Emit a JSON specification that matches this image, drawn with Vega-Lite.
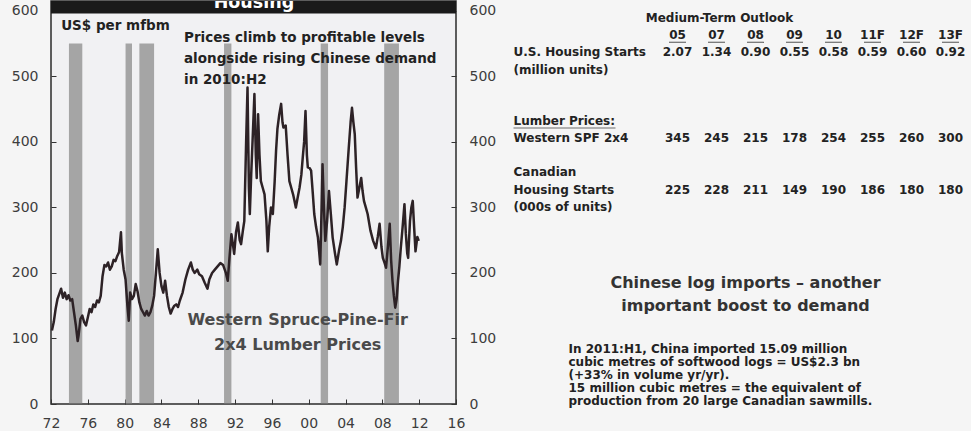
{
  "$schema": "https://vega.github.io/schema/vega-lite/v6.json",
  "background": "#f5f5f5",
  "padding": {"left": 10, "top": 0, "right": 1, "bottom": 0},
  "bounds": "flush",
  "spacing": 202,
  "config": {
    "view": {"stroke": null},
    "text": {"font": "DejaVu Sans"},
    "axis": {"labelFont": "DejaVu Sans"}
  },
  "datasets": {
    "recessions": [
      {"start": 1973.95, "end": 1975.4},
      {"start": 1980.1, "end": 1980.8},
      {"start": 1981.6, "end": 1983.2},
      {"start": 1990.8, "end": 1991.6},
      {"start": 2001.3, "end": 2002.1},
      {"start": 2008.2, "end": 2009.8}
    ],
    "lumber": [
      {"year": 1972.1, "price": 112}, {"year": 1972.3, "price": 125}, {"year": 1972.5, "price": 145},
      {"year": 1972.7, "price": 160}, {"year": 1972.9, "price": 168}, {"year": 1973.1, "price": 176},
      {"year": 1973.3, "price": 162}, {"year": 1973.5, "price": 170}, {"year": 1973.7, "price": 160},
      {"year": 1973.9, "price": 166}, {"year": 1974.1, "price": 158}, {"year": 1974.3, "price": 160},
      {"year": 1974.5, "price": 140}, {"year": 1974.7, "price": 120}, {"year": 1974.9, "price": 96},
      {"year": 1975.0, "price": 105}, {"year": 1975.2, "price": 130}, {"year": 1975.4, "price": 135},
      {"year": 1975.6, "price": 125}, {"year": 1975.8, "price": 120}, {"year": 1976.0, "price": 132},
      {"year": 1976.2, "price": 145}, {"year": 1976.4, "price": 140}, {"year": 1976.6, "price": 152},
      {"year": 1976.8, "price": 148}, {"year": 1977.0, "price": 158}, {"year": 1977.2, "price": 155},
      {"year": 1977.4, "price": 165}, {"year": 1977.6, "price": 195}, {"year": 1977.8, "price": 212},
      {"year": 1978.0, "price": 210}, {"year": 1978.2, "price": 216}, {"year": 1978.4, "price": 205},
      {"year": 1978.6, "price": 210}, {"year": 1978.8, "price": 220}, {"year": 1979.0, "price": 218},
      {"year": 1979.2, "price": 226}, {"year": 1979.4, "price": 232}, {"year": 1979.6, "price": 262},
      {"year": 1979.7, "price": 230}, {"year": 1979.9, "price": 205}, {"year": 1980.1, "price": 190},
      {"year": 1980.3, "price": 150}, {"year": 1980.45, "price": 127}, {"year": 1980.6, "price": 170},
      {"year": 1980.8, "price": 160}, {"year": 1981.0, "price": 165}, {"year": 1981.2, "price": 183},
      {"year": 1981.4, "price": 172}, {"year": 1981.6, "price": 155}, {"year": 1981.8, "price": 145},
      {"year": 1982.0, "price": 140}, {"year": 1982.2, "price": 135}, {"year": 1982.4, "price": 142},
      {"year": 1982.6, "price": 135}, {"year": 1982.8, "price": 140}, {"year": 1983.0, "price": 150},
      {"year": 1983.2, "price": 165}, {"year": 1983.4, "price": 200}, {"year": 1983.6, "price": 236},
      {"year": 1983.8, "price": 200}, {"year": 1984.0, "price": 180}, {"year": 1984.2, "price": 170},
      {"year": 1984.4, "price": 188}, {"year": 1984.6, "price": 165}, {"year": 1984.8, "price": 148},
      {"year": 1985.0, "price": 138}, {"year": 1985.2, "price": 145}, {"year": 1985.4, "price": 150},
      {"year": 1985.6, "price": 152}, {"year": 1985.8, "price": 148}, {"year": 1986.0, "price": 158},
      {"year": 1986.3, "price": 170}, {"year": 1986.6, "price": 190}, {"year": 1986.9, "price": 205},
      {"year": 1987.2, "price": 216}, {"year": 1987.4, "price": 205}, {"year": 1987.6, "price": 200},
      {"year": 1987.9, "price": 205}, {"year": 1988.1, "price": 198}, {"year": 1988.4, "price": 195},
      {"year": 1988.7, "price": 185}, {"year": 1989.0, "price": 176}, {"year": 1989.2, "price": 190},
      {"year": 1989.5, "price": 200}, {"year": 1989.8, "price": 205}, {"year": 1990.1, "price": 210},
      {"year": 1990.4, "price": 215}, {"year": 1990.7, "price": 212}, {"year": 1991.0, "price": 200},
      {"year": 1991.2, "price": 188}, {"year": 1991.4, "price": 225}, {"year": 1991.6, "price": 259},
      {"year": 1991.8, "price": 240}, {"year": 1991.9, "price": 229}, {"year": 1992.1, "price": 262},
      {"year": 1992.3, "price": 277}, {"year": 1992.5, "price": 250}, {"year": 1992.65, "price": 244},
      {"year": 1992.85, "price": 265}, {"year": 1993.0, "price": 279}, {"year": 1993.2, "price": 400},
      {"year": 1993.35, "price": 483}, {"year": 1993.5, "price": 330}, {"year": 1993.6, "price": 290},
      {"year": 1993.75, "price": 350}, {"year": 1993.9, "price": 402}, {"year": 1994.1, "price": 473},
      {"year": 1994.25, "price": 380}, {"year": 1994.35, "price": 345}, {"year": 1994.5, "price": 442},
      {"year": 1994.65, "price": 380}, {"year": 1994.8, "price": 340}, {"year": 1995.0, "price": 330},
      {"year": 1995.2, "price": 320}, {"year": 1995.4, "price": 280}, {"year": 1995.55, "price": 233},
      {"year": 1995.7, "price": 270}, {"year": 1995.9, "price": 300}, {"year": 1996.1, "price": 290},
      {"year": 1996.3, "price": 340}, {"year": 1996.45, "price": 386}, {"year": 1996.6, "price": 420},
      {"year": 1996.8, "price": 442}, {"year": 1997.0, "price": 458}, {"year": 1997.15, "price": 430},
      {"year": 1997.25, "price": 422}, {"year": 1997.5, "price": 425}, {"year": 1997.7, "price": 380},
      {"year": 1997.9, "price": 340}, {"year": 1998.1, "price": 330}, {"year": 1998.3, "price": 320},
      {"year": 1998.45, "price": 310}, {"year": 1998.6, "price": 300}, {"year": 1998.8, "price": 315},
      {"year": 1999.0, "price": 330}, {"year": 1999.2, "price": 350}, {"year": 1999.35, "price": 376},
      {"year": 1999.5, "price": 400}, {"year": 1999.65, "price": 447}, {"year": 1999.8, "price": 380},
      {"year": 1999.9, "price": 361}, {"year": 2000.1, "price": 360}, {"year": 2000.26, "price": 356},
      {"year": 2000.45, "price": 320}, {"year": 2000.6, "price": 290}, {"year": 2000.8, "price": 270},
      {"year": 2001.0, "price": 254}, {"year": 2001.15, "price": 230}, {"year": 2001.25, "price": 213},
      {"year": 2001.4, "price": 300}, {"year": 2001.5, "price": 366}, {"year": 2001.65, "price": 300},
      {"year": 2001.8, "price": 249}, {"year": 2002.0, "price": 280}, {"year": 2002.2, "price": 325},
      {"year": 2002.4, "price": 290}, {"year": 2002.6, "price": 254}, {"year": 2002.85, "price": 230},
      {"year": 2003.05, "price": 213}, {"year": 2003.3, "price": 235}, {"year": 2003.5, "price": 249},
      {"year": 2003.7, "price": 270}, {"year": 2003.9, "price": 300}, {"year": 2004.1, "price": 340},
      {"year": 2004.35, "price": 391}, {"year": 2004.55, "price": 430}, {"year": 2004.7, "price": 452},
      {"year": 2004.85, "price": 430}, {"year": 2005.0, "price": 412}, {"year": 2005.15, "price": 360},
      {"year": 2005.3, "price": 315}, {"year": 2005.5, "price": 330}, {"year": 2005.7, "price": 345},
      {"year": 2005.85, "price": 325}, {"year": 2006.0, "price": 310}, {"year": 2006.2, "price": 300},
      {"year": 2006.4, "price": 290}, {"year": 2006.7, "price": 265}, {"year": 2007.0, "price": 249},
      {"year": 2007.3, "price": 238}, {"year": 2007.5, "price": 255}, {"year": 2007.7, "price": 275},
      {"year": 2007.9, "price": 240}, {"year": 2008.05, "price": 223}, {"year": 2008.25, "price": 215},
      {"year": 2008.4, "price": 208}, {"year": 2008.6, "price": 240}, {"year": 2008.8, "price": 275},
      {"year": 2008.95, "price": 220}, {"year": 2009.1, "price": 188}, {"year": 2009.25, "price": 165},
      {"year": 2009.4, "price": 147}, {"year": 2009.55, "price": 160}, {"year": 2009.7, "price": 188},
      {"year": 2009.85, "price": 210}, {"year": 2010.0, "price": 238}, {"year": 2010.2, "price": 270},
      {"year": 2010.4, "price": 305}, {"year": 2010.55, "price": 260}, {"year": 2010.7, "price": 230},
      {"year": 2010.8, "price": 223}, {"year": 2011.0, "price": 279}, {"year": 2011.15, "price": 300},
      {"year": 2011.3, "price": 310}, {"year": 2011.45, "price": 270}, {"year": 2011.6, "price": 233},
      {"year": 2011.8, "price": 255}, {"year": 2011.95, "price": 249}
    ],
    "columns": [
      {"col": "05"}, {"col": "07"}, {"col": "08"}, {"col": "09"},
      {"col": "10"}, {"col": "11F"}, {"col": "12F"}, {"col": "13F"}
    ],
    "outlook": [
      {"series": "us", "col": "05", "value": 2.07}, {"series": "us", "col": "07", "value": 1.34},
      {"series": "us", "col": "08", "value": 0.90}, {"series": "us", "col": "09", "value": 0.55},
      {"series": "us", "col": "10", "value": 0.58}, {"series": "us", "col": "11F", "value": 0.59},
      {"series": "us", "col": "12F", "value": 0.60}, {"series": "us", "col": "13F", "value": 0.92},
      {"series": "wspf", "col": "05", "value": 345}, {"series": "wspf", "col": "07", "value": 245},
      {"series": "wspf", "col": "08", "value": 215}, {"series": "wspf", "col": "09", "value": 178},
      {"series": "wspf", "col": "10", "value": 254}, {"series": "wspf", "col": "11F", "value": 255},
      {"series": "wspf", "col": "12F", "value": 260}, {"series": "wspf", "col": "13F", "value": 300},
      {"series": "hs", "col": "05", "value": 225}, {"series": "hs", "col": "07", "value": 228},
      {"series": "hs", "col": "08", "value": 211}, {"series": "hs", "col": "09", "value": 149},
      {"series": "hs", "col": "10", "value": 190}, {"series": "hs", "col": "11F", "value": 186},
      {"series": "hs", "col": "12F", "value": 180}, {"series": "hs", "col": "13F", "value": 180}
    ],
    "rowLabels": [
      {"row": "us", "label": "U.S. Housing Starts"},
      {"row": "usu", "label": "(million units)"},
      {"row": "lp", "label": "Lumber Prices:"},
      {"row": "wspf", "label": "Western SPF 2x4"},
      {"row": "can", "label": "Canadian"},
      {"row": "hs", "label": "Housing Starts"},
      {"row": "hsu", "label": "(000s of units)"}
    ]
  },
  "hconcat": [
    {
      "width": 405,
      "height": 403,
      "view": {"stroke": "#2b2b2b", "strokeWidth": 1.5, "fill": "#f1f1f3"},
      "resolve": {"axis": {"x": "independent", "y": "independent"}},
      "layer": [
        {
          "data": {"name": "recessions"},
          "mark": {"type": "rect", "color": "#a5a5a5"},
          "encoding": {
            "x": {"field": "start", "type": "quantitative", "scale": {"domain": [1972, 2016], "nice": false, "zero": false},
              "axis": {"orient": "bottom", "values": [1972, 1976, 1980, 1984, 1988, 1992, 1996, 2000, 2004, 2008, 2012, 2016], "labelExpr": "substring(format(datum.value, 'd'), 2)", "grid": false, "domain": false, "tickSize": -5, "tickColor": "#333333", "labelFontSize": 14, "labelColor": "#3d3d3d", "labelPadding": 17, "labelFlush": false, "labelOverlap": false, "title": null}},
            "x2": {"field": "end"},
            "y": {"datum": 550, "type": "quantitative", "scale": {"domain": [0, 615], "nice": false, "zero": false},
              "axis": {"orient": "right", "values": [0, 100, 200, 300, 400, 500, 600], "grid": false, "domain": false, "tickSize": -5, "tickColor": "#333333", "labelFontSize": 14, "labelColor": "#3d3d3d", "labelPadding": 18, "title": null}},
            "y2": {"datum": 1}
          }
        },
        {
          "data": {"values": [{}]},
          "mark": {"type": "rect", "color": "#1a1a1a"},
          "encoding": {
            "x": {"datum": 1972, "type": "quantitative", "scale": {"domain": [1972, 2016], "nice": false, "zero": false}, "axis": null},
            "x2": {"datum": 2016},
            "y": {"datum": 615, "type": "quantitative", "scale": {"domain": [0, 615], "nice": false, "zero": false}, "axis": null},
            "y2": {"datum": 596}
          }
        },
        {
          "data": {"values": [{}]},
          "mark": {"type": "text", "text": "Housing", "clip": true, "color": "#ffffff", "fontSize": 17.5, "fontWeight": "bold", "align": "center", "baseline": "alphabetic"},
          "encoding": {
            "x": {"datum": 1994.05, "type": "quantitative", "scale": {"domain": [1972, 2016], "nice": false, "zero": false}, "axis": null},
            "y": {"datum": 604.3, "type": "quantitative", "scale": {"domain": [0, 615], "nice": false, "zero": false}, "axis": null}
          }
        },
        {
          "data": {"name": "lumber"},
          "mark": {"type": "line", "color": "#2d2226", "strokeWidth": 2.5, "strokeJoin": "round"},
          "encoding": {
            "x": {"field": "year", "type": "quantitative", "scale": {"domain": [1972, 2016], "nice": false, "zero": false}, "axis": null},
            "y": {"field": "price", "type": "quantitative", "scale": {"domain": [0, 615], "nice": false, "zero": false},
              "axis": {"orient": "left", "values": [0, 100, 200, 300, 400, 500, 600], "grid": false, "domain": false, "tickSize": -5, "tickColor": "#333333", "labelFontSize": 14, "labelColor": "#3d3d3d", "labelPadding": 18, "title": null}}
          }
        },
        {
          "data": {"values": [{}]},
          "mark": {"type": "text", "text": "US$ per mfbm", "align": "left", "baseline": "middle", "fontSize": 13.5, "fontWeight": "bold", "color": "#222222"},
          "encoding": {
            "x": {"datum": 1973.1, "type": "quantitative", "scale": {"domain": [1972, 2016], "nice": false, "zero": false}, "axis": null},
            "y": {"datum": 577, "type": "quantitative", "scale": {"domain": [0, 615], "nice": false, "zero": false}, "axis": null}
          }
        },
        {
          "data": {"values": [{}]},
          "mark": {"type": "text", "text": ["Prices climb to profitable levels", "alongside rising Chinese demand", "in 2010:H2"], "align": "left", "baseline": "alphabetic", "lineHeight": 21, "fontSize": 13.5, "fontWeight": "bold", "color": "#222222"},
          "encoding": {
            "x": {"datum": 1986.45, "type": "quantitative", "scale": {"domain": [1972, 2016], "nice": false, "zero": false}, "axis": null},
            "y": {"datum": 552, "type": "quantitative", "scale": {"domain": [0, 615], "nice": false, "zero": false}, "axis": null}
          }
        },
        {
          "data": {"values": [{}]},
          "mark": {"type": "text", "text": ["Western Spruce-Pine-Fir", "2x4 Lumber Prices"], "align": "center", "baseline": "alphabetic", "lineHeight": 25, "fontSize": 16, "fontWeight": "bold", "color": "#4a4a4a"},
          "encoding": {
            "x": {"datum": 1998.8, "type": "quantitative", "scale": {"domain": [1972, 2016], "nice": false, "zero": false}, "axis": null},
            "y": {"datum": 120.3, "type": "quantitative", "scale": {"domain": [0, 615], "nice": false, "zero": false}, "axis": null}
          }
        }
      ]
    },
    {
      "width": 312,
      "height": 360,
      "layer": [
        {
          "data": {"values": [{}]},
          "mark": {"type": "text", "text": "Medium-Term Outlook", "align": "center", "baseline": "middle", "fontSize": 12, "fontWeight": "bold", "color": "#222222", "dx": 3},
          "encoding": {
            "x": {"datum": "07", "type": "ordinal", "scale": {"type": "point", "domain": ["05", "07", "08", "09", "10", "11F", "12F", "13F"], "padding": 0.5}, "axis": null},
            "y": {"datum": "title", "type": "ordinal", "scale": {"type": "point", "domain": ["title", "head", "us", "usu", "g1", "g2", "lp", "wspf", "g3", "can", "hs", "hsu", "g4", "g5", "g6", "h", "g7", "g8", "g9", "p"], "padding": 1.1}, "axis": null}
          }
        },
        {
          "data": {"name": "columns"},
          "mark": {"type": "text", "align": "center", "baseline": "middle", "fontSize": 12, "fontWeight": "bold", "color": "#222222"},
          "encoding": {
            "x": {"field": "col", "type": "ordinal", "scale": {"type": "point", "domain": ["05", "07", "08", "09", "10", "11F", "12F", "13F"], "padding": 0.5}, "axis": null},
            "y": {"datum": "head", "type": "ordinal", "scale": {"type": "point", "domain": ["title", "head", "us", "usu", "g1", "g2", "lp", "wspf", "g3", "can", "hs", "hsu", "g4", "g5", "g6", "h", "g7", "g8", "g9", "p"], "padding": 1.1}, "axis": null},
            "text": {"field": "col", "type": "nominal"}
          }
        },
        {
          "data": {"name": "columns"},
          "mark": {"type": "tick", "orient": "horizontal", "thickness": 1.2, "size": 17, "color": "#333333", "yOffset": 7},
          "encoding": {
            "x": {"field": "col", "type": "ordinal", "scale": {"type": "point", "domain": ["05", "07", "08", "09", "10", "11F", "12F", "13F"], "padding": 0.5}, "axis": null},
            "y": {"datum": "head", "type": "ordinal", "scale": {"type": "point", "domain": ["title", "head", "us", "usu", "g1", "g2", "lp", "wspf", "g3", "can", "hs", "hsu", "g4", "g5", "g6", "h", "g7", "g8", "g9", "p"], "padding": 1.1}, "axis": null}
          }
        },
        {
          "data": {"name": "outlook"},
          "transform": [{"filter": "datum.series == 'us'"}],
          "mark": {"type": "text", "align": "center", "baseline": "middle", "fontSize": 12, "fontWeight": "bold", "color": "#222222"},
          "encoding": {
            "x": {"field": "col", "type": "ordinal", "scale": {"type": "point", "domain": ["05", "07", "08", "09", "10", "11F", "12F", "13F"], "padding": 0.5}, "axis": null},
            "y": {"field": "series", "type": "ordinal", "scale": {"type": "point", "domain": ["title", "head", "us", "usu", "g1", "g2", "lp", "wspf", "g3", "can", "hs", "hsu", "g4", "g5", "g6", "h", "g7", "g8", "g9", "p"], "padding": 1.1}, "axis": null},
            "text": {"field": "value", "type": "quantitative", "format": ".2f"}
          }
        },
        {
          "data": {"name": "outlook"},
          "transform": [{"filter": "datum.series != 'us'"}],
          "mark": {"type": "text", "align": "center", "baseline": "middle", "fontSize": 12, "fontWeight": "bold", "color": "#222222"},
          "encoding": {
            "x": {"field": "col", "type": "ordinal", "scale": {"type": "point", "domain": ["05", "07", "08", "09", "10", "11F", "12F", "13F"], "padding": 0.5}, "axis": null},
            "y": {"field": "series", "type": "ordinal", "scale": {"type": "point", "domain": ["title", "head", "us", "usu", "g1", "g2", "lp", "wspf", "g3", "can", "hs", "hsu", "g4", "g5", "g6", "h", "g7", "g8", "g9", "p"], "padding": 1.1}, "axis": null},
            "text": {"field": "value", "type": "quantitative", "format": "d"}
          }
        },
        {
          "data": {"name": "rowLabels"},
          "mark": {"type": "text", "align": "left", "baseline": "middle", "fontSize": 12, "fontWeight": "bold", "color": "#222222", "dx": -164},
          "encoding": {
            "x": {"datum": "05", "type": "ordinal", "scale": {"type": "point", "domain": ["05", "07", "08", "09", "10", "11F", "12F", "13F"], "padding": 0.5}, "axis": null},
            "y": {"field": "row", "type": "ordinal", "scale": {"type": "point", "domain": ["title", "head", "us", "usu", "g1", "g2", "lp", "wspf", "g3", "can", "hs", "hsu", "g4", "g5", "g6", "h", "g7", "g8", "g9", "p"], "padding": 1.1}, "axis": null},
            "text": {"field": "label", "type": "nominal"}
          }
        },
        {
          "data": {"values": [{}]},
          "mark": {"type": "tick", "orient": "horizontal", "thickness": 1.2, "size": 102, "color": "#333333", "xOffset": -113, "yOffset": 7},
          "encoding": {
            "x": {"datum": "05", "type": "ordinal", "scale": {"type": "point", "domain": ["05", "07", "08", "09", "10", "11F", "12F", "13F"], "padding": 0.5}, "axis": null},
            "y": {"datum": "lp", "type": "ordinal", "scale": {"type": "point", "domain": ["title", "head", "us", "usu", "g1", "g2", "lp", "wspf", "g3", "can", "hs", "hsu", "g4", "g5", "g6", "h", "g7", "g8", "g9", "p"], "padding": 1.1}, "axis": null}
          }
        },
        {
          "data": {"values": [{}]},
          "mark": {"type": "text", "text": ["Chinese log imports – another", "important boost to demand"], "align": "center", "baseline": "top", "lineHeight": 23, "fontSize": 16, "fontWeight": "bold", "color": "#333333", "dx": -10},
          "encoding": {
            "x": {"datum": "08", "type": "ordinal", "scale": {"type": "point", "domain": ["05", "07", "08", "09", "10", "11F", "12F", "13F"], "padding": 0.5}, "axis": null},
            "y": {"datum": "h", "type": "ordinal", "scale": {"type": "point", "domain": ["title", "head", "us", "usu", "g1", "g2", "lp", "wspf", "g3", "can", "hs", "hsu", "g4", "g5", "g6", "h", "g7", "g8", "g9", "p"], "padding": 1.1}, "axis": null}
          }
        },
        {
          "data": {"values": [{}]},
          "mark": {"type": "text", "text": ["In 2011:H1, China imported 15.09 million", "cubic metres of softwood logs = US$2.3 bn", "(+33% in volume yr/yr).", "15 million cubic metres = the equivalent of", "production from 20 large Canadian sawmills."], "align": "left", "baseline": "top", "lineHeight": 13, "fontSize": 12, "fontWeight": "bold", "color": "#222222", "dx": -109},
          "encoding": {
            "x": {"datum": "05", "type": "ordinal", "scale": {"type": "point", "domain": ["05", "07", "08", "09", "10", "11F", "12F", "13F"], "padding": 0.5}, "axis": null},
            "y": {"datum": "p", "type": "ordinal", "scale": {"type": "point", "domain": ["title", "head", "us", "usu", "g1", "g2", "lp", "wspf", "g3", "can", "hs", "hsu", "g4", "g5", "g6", "h", "g7", "g8", "g9", "p"], "padding": 1.1}, "axis": null}
          }
        }
      ]
    }
  ]
}
